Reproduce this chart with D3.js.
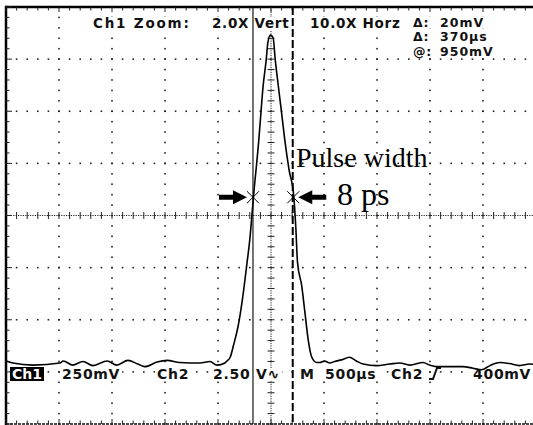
<!DOCTYPE html>
<html>
<head>
<meta charset="utf-8">
<script src="https://cdn.jsdelivr.net/npm/d3@7"></script>
<style>
  html, body { margin: 0; background: #fff; }
  svg { display: block; }
</style>
</head>
<body>
<svg id="scope" width="533" height="425"></svg>
<script>
// trace, in graticule divisions (time -5..5, volts -4..4)
const traceTime = [-5.0, -4.87, -4.49, -3.98, -3.92, -3.74, -3.55, -3.36, -3.09, -2.91,
  -2.70, -2.51, -2.38, -2.15, -1.96, -1.72, -1.34, -1.15, -1.02, -0.87,
  -0.83, -0.77, -0.71, -0.62, -0.53, -0.46, -0.40, -0.33, -0.23, -0.19,
  -0.15, -0.09, -0.06, -0.01, 0.04, 0.08, 0.14, 0.20, 0.26, 0.34,
  0.43, 0.47, 0.50, 0.58, 0.64, 0.70, 0.77, 0.86, 0.92, 1.01,
  1.11, 1.20, 1.33, 1.48, 1.61, 1.74, 1.99, 2.24, 2.43, 2.62,
  2.87, 2.99, 3.12, 3.37, 3.62, 3.81, 3.97, 4.13, 4.32, 4.50, 4.69, 4.88, 5.0];
const traceVolt = [-2.79, -2.83, -2.87, -2.83, -2.79, -2.87, -2.80, -2.88, -2.79, -2.87,
  -2.78, -2.85, -2.90, -2.81, -2.78, -2.82, -2.83, -2.80, -2.87, -2.83,
  -2.79, -2.72, -2.50, -2.12, -1.54, -0.97, -0.46, 0.37, 1.45, 1.97,
  2.47, 2.99, 3.31, 3.46, 3.41, 2.99, 2.47, 1.97, 1.45, 0.88,
  0.37, -0.27, -0.90, -1.35, -1.86, -2.37, -2.72, -2.82, -2.82, -2.79,
  -2.83, -2.80, -2.77, -2.72, -2.79, -2.85, -2.88, -2.85, -2.83, -2.87,
  -2.82, -2.87, -2.90, -2.90, -2.90, -2.93, -2.96, -2.88, -2.82, -2.84, -2.88, -2.85, -2.86];

// cursors (divisions): solid, dashed
const cursorTimes = [-0.34, 0.41];
const cursorStyles = ["solid", "dashed"];
// half-maximum crossings marked with x
const widthMarkTimes = [-0.34, 0.42];
const widthMarkLevel = 0.35;

const headerLabels = ["Ch1 Zoom:", "2.0X Vert", "10.0X Horz"];
const readoutSymbols = ["Δ:", "Δ:", "@:"];
const readoutValues = ["20mV", "370µs", "950mV"];
const footerLabels = ["250mV", "Ch2", "2.50 V∿", "M", "500µs", "Ch2", "400mV"];
const annotationTitle = "Pulse width";
const annotationValue = "8 ps";

const svg = d3.select("#scope");

const x = d3.scaleLinear().domain([-5, 5]).range([6, 536]);
const y = d3.scaleLinear().domain([-4, 4]).range([424, 7]);

const minorSteps = d3.range(-25, 26).map(d => d / 5);
const vMinorSteps = d3.range(-20, 21).map(d => d / 5);

const gridLayer = svg.append("g").attr("class", "grid");
const labelBgLayer = svg.append("g").attr("class", "label-bg");
const labelLayer = svg.append("g").attr("class", "labels")
  .attr("font-family", "DejaVu Sans, sans-serif")
  .attr("font-weight", "bold")
  .attr("fill", "#111");
const traceLayer = svg.append("g").attr("class", "trace");
const cursorLayer = svg.append("g").attr("class", "cursors");
const noteLayer = svg.append("g").attr("class", "notes");

// dotted graticule: dots every 1/5 division along each division line
const dots = [];
d3.range(-4, 5).filter(i => i !== 0).forEach(i => {
  vMinorSteps.forEach(v => dots.push([i, v]));
});
d3.range(-3, 4).filter(j => j !== 0).forEach(j => {
  minorSteps.forEach(t => dots.push([t, j]));
});
gridLayer.selectAll("rect.dot")
  .data(dots)
  .join("rect")
  .attr("class", "dot")
  .attr("x", d => x(d[0]) - 0.8)
  .attr("y", d => y(d[1]) - 0.8)
  .attr("width", 1.6)
  .attr("height", 1.6)
  .attr("fill", "#222");

// centre crosshair with minor ticks
gridLayer.append("line")
  .attr("x1", x(-5)).attr("x2", x(5))
  .attr("y1", y(0)).attr("y2", y(0))
  .attr("stroke", "#222").attr("stroke-dasharray", "1.2,1.2");
gridLayer.append("line")
  .attr("x1", x(0)).attr("x2", x(0))
  .attr("y1", y(4)).attr("y2", y(-4))
  .attr("stroke", "#222").attr("stroke-dasharray", "1.2,1.2");
gridLayer.selectAll("line.htick")
  .data(minorSteps)
  .join("line")
  .attr("class", "htick")
  .attr("x1", d => x(d)).attr("x2", d => x(d))
  .attr("y1", y(0) - 3.5).attr("y2", y(0) + 3.5)
  .attr("stroke", "#222");
gridLayer.selectAll("line.vtick")
  .data(vMinorSteps)
  .join("line")
  .attr("class", "vtick")
  .attr("x1", x(0) - 3.5).attr("x2", x(0) + 3.5)
  .attr("y1", d => y(d)).attr("y2", d => y(d))
  .attr("stroke", "#222");

// frame with edge ticks
gridLayer.append("line")
  .attr("x1", x(-5)).attr("x2", x(5))
  .attr("y1", y(4)).attr("y2", y(4))
  .attr("stroke", "#000").attr("stroke-width", 2.5);
gridLayer.append("line")
  .attr("x1", x(-5)).attr("x2", x(-5))
  .attr("y1", y(4) - 1.2).attr("y2", y(-4) + 1)
  .attr("stroke", "#000").attr("stroke-width", 2.5);
gridLayer.append("line")
  .attr("x1", x(-5)).attr("x2", x(5))
  .attr("y1", y(-4)).attr("y2", y(-4))
  .attr("stroke", "#111").attr("stroke-width", 1.5).attr("stroke-dasharray", "3,1");

const isMajor = d => Math.abs(d - Math.round(d)) < 1e-6;
gridLayer.selectAll("line.ttick")
  .data(minorSteps)
  .join("line")
  .attr("class", "ttick")
  .attr("x1", d => x(d)).attr("x2", d => x(d))
  .attr("y1", y(4)).attr("y2", d => y(4) + (isMajor(d) ? 5 : 3.5))
  .attr("stroke", "#222");
gridLayer.selectAll("line.btick")
  .data(minorSteps)
  .join("line")
  .attr("class", "btick")
  .attr("x1", d => x(d)).attr("x2", d => x(d))
  .attr("y1", y(-4)).attr("y2", d => y(-4) - (isMajor(d) ? 5 : 3.5))
  .attr("stroke", "#222");
gridLayer.selectAll("line.ltick")
  .data(vMinorSteps)
  .join("line")
  .attr("class", "ltick")
  .attr("x1", x(-5)).attr("x2", d => x(-5) + (isMajor(d) ? 6 : 3.5))
  .attr("y1", d => y(d)).attr("y2", d => y(d))
  .attr("stroke", "#222");

// on-screen readouts
function addLabel(text, px, py, size, spacing) {
  const t = labelLayer.append("text")
    .attr("x", px).attr("y", py)
    .attr("font-size", size)
    .attr("letter-spacing", spacing)
    .text(text);
  const b = t.node().getBBox();
  labelBgLayer.append("rect")
    .attr("x", b.x - 2).attr("y", b.y + 2)
    .attr("width", b.width + 4).attr("height", b.height - 3)
    .attr("fill", "#fff");
  return t;
}

const headerX = [93, 212, 310];
const headerSpacing = [1.8, 0.7, 0.7];
headerLabels.forEach((s, i) => addLabel(s, headerX[i], 28, 13.5, headerSpacing[i]));
const readoutY = [26.5, 41, 55.5];
readoutSymbols.forEach((s, i) => {
  addLabel(s, 413, readoutY[i], 12.5, 0.8);
  addLabel(readoutValues[i], 440, readoutY[i], 12.5, 1);
});

const footerX = [62, 157, 213, 300, 325, 391, 473];
const footerY = 379;
footerLabels.forEach((s, i) => addLabel(s, footerX[i], footerY, 14, 0.7));

// inverted channel badge
labelBgLayer.append("rect")
  .attr("x", 10).attr("y", 367).attr("width", 34).attr("height", 14)
  .attr("fill", "#000");
labelLayer.append("text")
  .attr("x", 12).attr("y", footerY)
  .attr("font-size", 14)
  .attr("fill", "#fff")
  .text("Ch1");

// rising-edge trigger glyph
labelLayer.append("path")
  .attr("d", `M429,${footerY} h4 l4,-11 h4`)
  .attr("fill", "none").attr("stroke", "#111").attr("stroke-width", 2);

// waveform
const line = d3.line()
  .x(d => x(d[0]))
  .y(d => y(d[1]))
  .curve(d3.curveMonotoneX);
traceLayer.append("path")
  .datum(d3.zip(traceTime, traceVolt))
  .attr("d", line)
  .attr("fill", "none")
  .attr("stroke", "#000")
  .attr("stroke-width", 1.6)
  .attr("stroke-linejoin", "round");

// time cursors
cursorLayer.selectAll("line")
  .data(d3.zip(cursorTimes, cursorStyles))
  .join("line")
  .attr("x1", d => x(d[0])).attr("x2", d => x(d[0]))
  .attr("y1", y(4)).attr("y2", y(-4))
  .attr("stroke", "#000")
  .attr("stroke-width", d => d[1] === "dashed" ? 2 : 1.1)
  .attr("stroke-dasharray", d => d[1] === "dashed" ? "8,3" : null);

// pulse-width annotation
const markY = y(widthMarkLevel);
noteLayer.selectAll("path.cross")
  .data(widthMarkTimes)
  .join("path")
  .attr("class", "cross")
  .attr("d", d => {
    const cx = x(d), r = 6;
    return `M${cx - r},${markY - r}L${cx + r},${markY + r}M${cx - r},${markY + r}L${cx + r},${markY - r}`;
  })
  .attr("stroke", "#000").attr("stroke-width", 1);

function arrow(tipX, dir) {
  // dir = +1 points right, -1 points left
  const head = 14, shaft = 14, hh = 7, sw = 2.5;
  const bx = tipX - dir * head;
  const ex = bx - dir * shaft;
  return `M${tipX},${markY}L${bx},${markY - hh}L${bx},${markY - sw}L${ex},${markY - sw}` +
    `L${ex},${markY + sw}L${bx},${markY + sw}L${bx},${markY + hh}Z`;
}
noteLayer.append("path").attr("d", arrow(x(widthMarkTimes[0]) - 6, 1)).attr("fill", "#000");
noteLayer.append("path").attr("d", arrow(x(widthMarkTimes[1]) + 5, -1)).attr("fill", "#000");

noteLayer.append("text")
  .attr("x", 296).attr("y", 167)
  .attr("font-family", "Liberation Serif, Times New Roman, serif")
  .attr("font-size", 28)
  .attr("fill", "#000")
  .text(annotationTitle);
noteLayer.append("text")
  .attr("x", 337).attr("y", 205)
  .attr("font-family", "Liberation Serif, Times New Roman, serif")
  .attr("font-size", 32)
  .attr("fill", "#000")
  .text(annotationValue);
</script>
</body>
</html>
